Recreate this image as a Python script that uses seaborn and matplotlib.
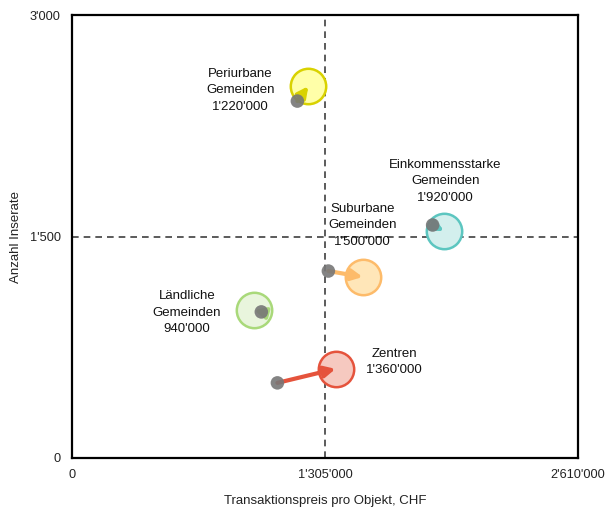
import numpy as np
import pandas as pd
import seaborn as sns
import matplotlib.pyplot as plt
from matplotlib.ticker import FuncFormatter

sns.set_style('white')
plt.rcParams['font.family'] = ['Liberation Sans', 'DejaVu Sans']

# values
segments = ['Periurbane\nGemeinden', 'Einkommensstarke\nGemeinden', 'Suburbane\nGemeinden',
            'Ländliche\nGemeinden', 'Zentren']
price_old = [1163000, 1861000, 1323000, 977000, 1060000]
listings_old = [2418, 1578, 1266, 989, 508]
price_new = [1220000, 1920000, 1500000, 940000, 1360000]
listings_new = [2519, 1537, 1226, 1002, 603]
edge_colors = ['#D9D200', '#5CC6C0', '#FDBB6A', '#A9D97A', '#E5533C']
fill_colors = ['#FFFFA8', '#D3EFED', '#FFE6B8', '#E9F5DD', '#F6C9C0']
# label anchor (x, y) in data units
label_x = [868000, 1928000, 1499000, 594000, 1665000]
label_y = [2492, 1876, 1578, 982, 650]

cx = 1305000
cy = 1500

old = pd.DataFrame({'segment': segments, 'price': price_old, 'listings': listings_old})
new = pd.DataFrame({'segment': segments, 'price': price_new, 'listings': listings_new})

f, ax = plt.subplots(figsize=(6.05, 5.07), dpi=100)
f.subplots_adjust(left=0.119, right=0.955, top=0.970, bottom=0.097)

ax.axvline(cx, color='#404040', ls=(0, (4, 3)), lw=1.2, zorder=1)
ax.axhline(cy, color='#404040', ls=(0, (4, 3)), lw=1.2, zorder=1)

for i in range(len(segments)):
    sub = new.iloc[[i]]
    sns.scatterplot(data=sub, x='price', y='listings', s=650, color=fill_colors[i],
                    edgecolor=edge_colors[i], linewidth=1.8, ax=ax, zorder=2, legend=False)
    ax.annotate('', xy=(price_new[i], listings_new[i]), xytext=(price_old[i], listings_old[i]),
                arrowprops=dict(arrowstyle='-|>', color=edge_colors[i], lw=3,
                                mutation_scale=16, shrinkA=0, shrinkB=0), zorder=3)
    ax.text(label_x[i], label_y[i], segments[i] + '\n' + f"{price_new[i]:,}".replace(',', "'"),
            ha='center', va='center', fontsize=9.5, linespacing=1.5, color='#111111')

sns.scatterplot(data=old, x='price', y='listings', s=95, color='#777777', alpha=0.9,
                edgecolor='none', ax=ax, zorder=4, legend=False)

ax.set_xlim(0, 2610000)
ax.set_ylim(0, 3000)
ax.set_xticks([0, cx, 2610000])
ax.set_yticks([0, cy, 3000])
fmt = FuncFormatter(lambda v, p: f"{int(v):,}".replace(',', "'"))
ax.xaxis.set_major_formatter(fmt)
ax.yaxis.set_major_formatter(fmt)
ax.tick_params(axis='both', length=0, labelsize=9.2, pad=8, colors='#222222')
ax.set_xlabel('Transaktionspreis pro Objekt, CHF', fontsize=9.5, labelpad=10, color='#222222')
ax.set_ylabel('Anzahl Inserate', fontsize=9.5, labelpad=6, color='#222222')
for s in ax.spines.values():
    s.set_color('black')
    s.set_linewidth(1.6)

plt.savefig('out.png', dpi=100)
